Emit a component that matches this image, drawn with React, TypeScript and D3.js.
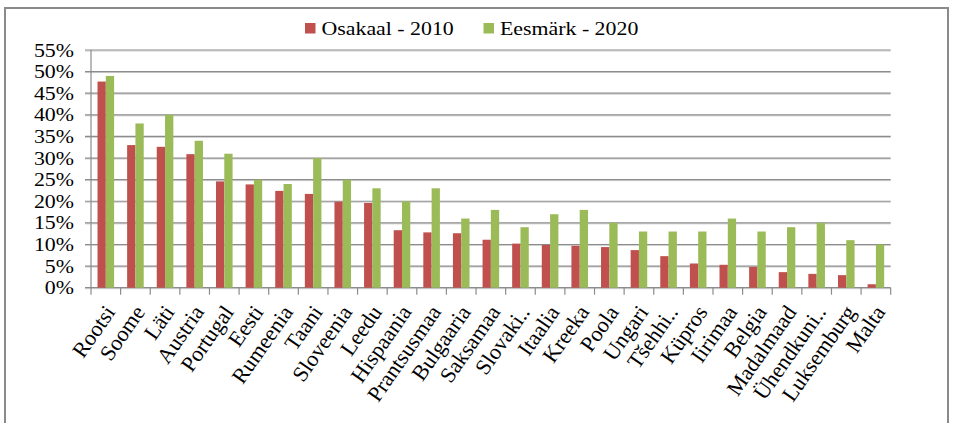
import React from "react";
import * as d3 from "d3";

const categories = [
  "Rootsi", "Soome", "Läti", "Austria", "Portugal", "Eesti", "Rumeenia", "Taani",
  "Sloveenia", "Leedu", "Hispaania", "Prantsusmaa", "Bulgaaria", "Saksamaa",
  "Slovaki..", "Itaalia", "Kreeka", "Poola", "Ungari", "Tšehhi..", "Küpros",
  "Iirimaa", "Belgia", "Madalmaad", "Ühendkuni..", "Luksemburg", "Malta",
];
const share2010 = [
  47.7, 33.0, 32.6, 30.9, 24.6, 23.9, 22.4, 21.7, 19.9, 19.6, 13.3, 12.8, 12.6,
  11.1, 10.2, 9.9, 9.7, 9.4, 8.7, 7.3, 5.6, 5.3, 4.8, 3.6, 3.2, 2.9, 0.8,
];
const target2020 = [
  49, 38, 40, 34, 31, 25, 24, 30, 25, 23, 20, 23, 16, 18, 14, 17, 18, 15, 13, 13,
  13, 16, 13, 14, 15, 11, 10,
];
const yTicks = [0, 5, 10, 15, 20, 25, 30, 35, 40, 45, 50, 55];
const seriesNames = ["Osakaal - 2010", "Eesmärk - 2020"];
const seriesColors = ["#C0504D", "#9BBB59"];

const W = 953;
const H = 423;
const plotLeft = 91;
const plotRight = 890.7;
const plotTop = 50;
const plotBottom = 287.7;
const FONT = "'Liberation Serif', 'Times New Roman', serif";
const SX = 1.15;

export default function App() {
  const x = d3.scaleBand<string>().domain(categories).range([plotLeft, plotRight]).padding(0);
  const groupW = x.bandwidth() * 0.56;
  const x1 = d3.scaleBand<number>().domain([0, 1]).range([0, groupW]).padding(0);
  const y = d3.scaleLinear().domain([0, 55]).range([plotBottom, plotTop]);
  const series = [share2010, target2020];
  const boundaries = d3.range(categories.length + 1).map((i) =>
    i < categories.length ? (x(categories[i]) as number) : plotRight
  );

  return (
    <svg width={W} height={H} style={{ position: "absolute", left: 0, top: 0, background: "#fff" }}>
      <rect x={0} y={0} width={W} height={H} fill="#fff" />
      <rect x={5} y={8} width={943} height={440} fill="#fff" stroke="#8a8a8a" strokeWidth={2} />
      {/* gridlines */}
      {yTicks.map((t) => (
        <g key={t}>
          <line x1={plotLeft - 6} x2={plotRight} y1={y(t) + 1} y2={y(t) + 1} stroke="#d0d0d0" strokeWidth={1} />
          <line x1={plotLeft - 6} x2={plotRight} y1={y(t)} y2={y(t)} stroke="#8c8c8c" strokeWidth={1.2} />
        </g>
      ))}
      {/* y axis */}
      <line x1={plotLeft} x2={plotLeft} y1={plotTop} y2={plotBottom} stroke="#8c8c8c" strokeWidth={1.2} />
      {/* x ticks */}
      {boundaries.map((b, i) => (
        <line key={i} x1={b} x2={b} y1={plotBottom} y2={plotBottom + 7} stroke="#8c8c8c" strokeWidth={1.2} />
      ))}
      {/* bars */}
      {categories.map((c, i) => {
        const gx = (x(c) as number) + (x.bandwidth() - groupW) / 2;
        return (
          <g key={c}>
            {series.map((s, k) => (
              <rect
                key={k}
                x={gx + (x1(k) as number)}
                y={y(s[i])}
                width={x1.bandwidth()}
                height={plotBottom - y(s[i])}
                fill={seriesColors[k]}
              />
            ))}
          </g>
        );
      })}
      {/* y labels */}
      {yTicks.map((t) => (
        <g key={t} transform={`translate(74,${y(t) + 6.5}) scale(${SX},1)`}>
          <text textAnchor="end" fontFamily={FONT} fontSize={19} fill="#000">
            {t}%
          </text>
        </g>
      ))}
      {/* x labels */}
      {categories.map((c) => {
        const cx = (x(c) as number) + x.bandwidth() / 2;
        return (
          <g key={c} transform={`translate(${cx + 4},${plotBottom + 20}) rotate(-55)`}>
            <text textAnchor="end" dy="0.35em" fontFamily={FONT} fontSize={22} fill="#000">
              {c}
            </text>
          </g>
        );
      })}
      {/* legend */}
      {seriesNames.map((n, k) => {
        const lx = [305, 483.5][k];
        return (
          <g key={n}>
            <rect x={lx} y={23} width={10.5} height={10.5} fill={seriesColors[k]} />
            <g transform={`translate(${lx + 16.5},35) scale(${SX},1)`}>
              <text fontFamily={FONT} fontSize={19} fill="#000">
                {n}
              </text>
            </g>
          </g>
        );
      })}
    </svg>
  );
}
